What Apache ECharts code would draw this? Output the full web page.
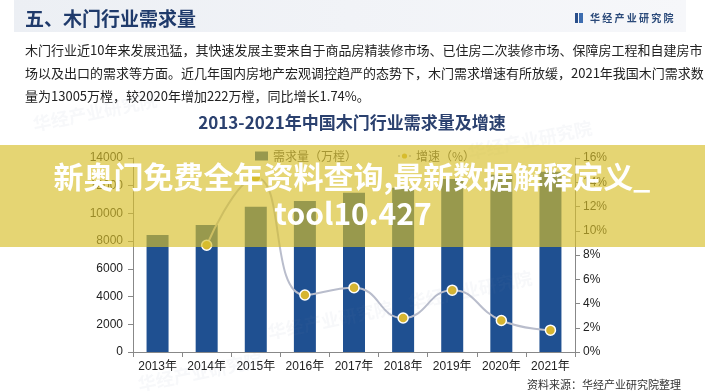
<!DOCTYPE html>
<html>
<head>
<meta charset="utf-8">
<script src="https://cdn.jsdelivr.net/npm/echarts@6/dist/echarts.min.js"></script>
<style>
html,body{margin:0;padding:0;background:#fff;}
#chart{width:705px;height:392px;}
</style>
</head>
<body>
<div id="chart"></div>
<script>
const categories = ['2013年','2014年','2015年','2016年','2017年','2018年','2019年','2020年','2021年'];
const demand = [8450, 9170, 10490, 10900, 11500, 11850, 12480, 12783, 13005];
const growth = [null, 8.8, 14.4, 4.7, 5.3, 2.8, 5.1, 2.6, 1.8];
const leftTicks = { min: 0, max: 14000, interval: 2000 };
const rightTicks = { min: 0, max: 16, interval: 2 };

const headerTitle = '五、木门行业需求量';
const brand = '华经产业研究院';
const paragraph = [
  '木门行业近10年来发展迅猛，其快速发展主要来自于商品房精装修市场、已住房二次装修市场、保障房工程和自建房市',
  '场以及出口的需求等方面。近几年国内房地产宏观调控趋严的态势下，木门需求增速有所放缓，2021年我国木门需求数',
  '量为13005万樘，较2020年增加222万樘，同比增长1.74%。'
];
const chartTitle = '2013-2021年中国木门行业需求量及增速';
const seriesNames = ['需求量（万樘）', '增速（%）'];
const source = '资料来源：华经产业研究院整理';
const bannerLines = ['新奥门免费全年资料查询,最新数据解释定义_', 'tool10.427'];

const CJK = '"Noto Sans CJK SC", "Noto Sans", sans-serif';
const LAT = '"Liberation Sans", Arial, "Noto Sans CJK SC", sans-serif';

const chart = echarts.init(document.getElementById('chart'), null, { renderer: 'canvas' });

const watermarks = [
  { x: 95, y: 112, r: 0.2 },
  { x: 330, y: 320, r: 0.2 },
  { x: 200, y: 372, r: 0.2 },
  { x: 530, y: 140, r: 0.2 },
  { x: 470, y: 290, r: 0.2 }
].map(w => ({
  type: 'text', z: 50, silent: true,
  x: w.x, y: w.y, rotation: w.r,
  style: { text: brand, font: 'bold 18px ' + CJK, fill: 'rgba(120,135,170,0.06)', textAlign: 'center', textVerticalAlign: 'middle' }
}));

const graphics = [
  { type: 'rect', z: 0, silent: true, shape: { x: 14, y: 0, width: 672, height: 32 },
    style: { fill: new echarts.graphic.LinearGradient(0, 0, 1, 0, [{ offset: 0, color: '#eceff4' }, { offset: 1, color: '#f6f7fa' }]) } },
  { type: 'text', z: 10, style: { text: headerTitle, x: 25, y: 19, font: 'bold 19px ' + CJK, fill: '#1f3a6b', textVerticalAlign: 'middle' } },
  { type: 'rect', z: 10, shape: { x: 575, y: 13, width: 3, height: 10 }, style: { fill: '#2a4f8a' } },
  { type: 'rect', z: 10, shape: { x: 579, y: 13, width: 4, height: 10 }, style: { fill: '#3d6db0' } },
  { type: 'text', z: 10, style: { text: brand.split('').join(' '), x: 590, y: 18, font: 'bold 10px ' + CJK, fill: '#2b4a7a', textVerticalAlign: 'middle' } },
  ...paragraph.map((t, i) => ({ type: 'text', z: 10, style: { text: t, x: 25, y: 50 + i * 23, font: '13px ' + CJK, fill: '#222', textVerticalAlign: 'middle' } })),
  { type: 'text', z: 10, style: { text: chartTitle, x: 352, y: 123, font: 'bold 17px ' + CJK, fill: '#2b416f', textAlign: 'center', textVerticalAlign: 'middle' } },
  { type: 'text', z: 10, style: { text: source, x: 681, y: 385, font: '11px ' + CJK, fill: '#333', textAlign: 'right', textVerticalAlign: 'middle' } },
  ...watermarks,
  { type: 'rect', z: 100, silent: true, shape: { x: 0, y: 145, width: 705, height: 102 }, style: { fill: 'rgba(215,191,43,0.66)' } },
  { type: 'text', z: 101, style: { text: bannerLines[0], x: 352, y: 177, font: 'bold 30px ' + CJK, fill: '#ffffff', textAlign: 'center', textVerticalAlign: 'middle', shadowColor: 'rgba(110,90,0,0.35)', shadowBlur: 3 } },
  { type: 'text', z: 101, style: { text: bannerLines[1], x: 353, y: 214, font: 'bold 30px ' + CJK, fill: '#ffffff', textAlign: 'center', textVerticalAlign: 'middle', shadowColor: 'rgba(110,90,0,0.35)', shadowBlur: 3 } }
];

chart.setOption({
  animation: false,
  backgroundColor: '#ffffff',
  graphic: { elements: graphics },
  legend: {
    left: 250, top: 145, itemGap: 40, itemWidth: 13, itemHeight: 9,
    textStyle: { fontSize: 12, color: '#444', fontFamily: CJK },
    data: [
      { name: seriesNames[0], icon: 'rect' },
      { name: seriesNames[1] }
    ]
  },
  grid: { left: 133, right: 130, top: 158, bottom: 40, containLabel: false },
  xAxis: {
    type: 'category', data: categories,
    axisLine: { lineStyle: { color: '#888', width: 1 } },
    axisTick: { show: true, alignWithLabel: false, length: 5, lineStyle: { color: '#888' } },
    axisLabel: { color: '#222', fontSize: 12, fontFamily: LAT, margin: 9, interval: 0, hideOverlap: false }
  },
  yAxis: [
    {
      type: 'value', min: leftTicks.min, max: leftTicks.max, interval: leftTicks.interval,
      axisLine: { show: true, lineStyle: { color: '#888' } },
      axisTick: { show: true, length: 5, lineStyle: { color: '#888' } },
      splitLine: { show: false },
      axisLabel: { color: '#222', fontSize: 12, fontFamily: LAT, margin: 10, formatter: v => String(v) }
    },
    {
      type: 'value', min: rightTicks.min, max: rightTicks.max, interval: rightTicks.interval,
      position: 'right',
      axisLine: { show: true, lineStyle: { color: '#888' } },
      axisTick: { show: true, length: 5, lineStyle: { color: '#888' } },
      splitLine: { show: false },
      axisLabel: { color: '#222', fontSize: 12, fontFamily: LAT, margin: 8, formatter: v => v + '%' }
    }
  ],
  series: [
    {
      name: seriesNames[0], type: 'bar', data: demand, barWidth: 22,
      itemStyle: { color: '#1f5091' }
    },
    {
      name: seriesNames[1], type: 'line', yAxisIndex: 1, data: growth, smooth: true,
      connectNulls: false,
      lineStyle: { color: '#b9bdcc', width: 2 },
      symbol: 'circle', symbolSize: 10,
      itemStyle: { color: '#d6b531', borderColor: '#ffffff', borderWidth: 1.5 }
    }
  ]
});
</script>
</body>
</html>
